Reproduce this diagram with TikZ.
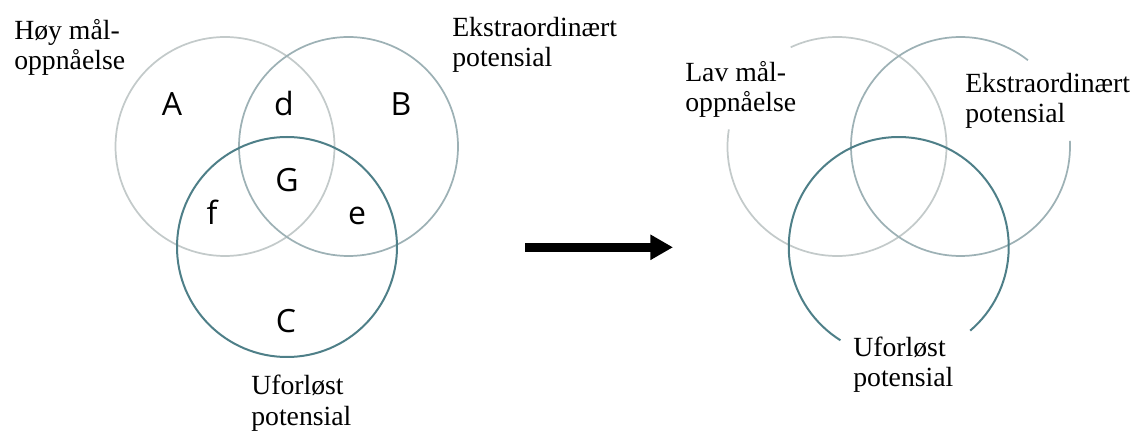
\documentclass[tikz,border=0pt]{standalone}
\usepackage{fontspec}
\setmainfont{Liberation Serif}
\newfontfamily\letterfont{Open Sans}
\usetikzlibrary{arrows.meta}
\definecolor{ringA}{HTML}{C3CACA}
\definecolor{ringB}{HTML}{9DB1B5}
\definecolor{ringC}{HTML}{4E7F88}
\begin{document}
\begin{tikzpicture}[x=0.75pt,y=0.75pt]
\useasboundingbox (0,0) rectangle (1139,432);
\draw[ringA, line width=1.3pt] (225,285.5) circle[radius=109.5];
\draw[ringB, line width=1.3pt] (348.5,285.5) circle[radius=109.5];
\draw[ringC, line width=1.5pt] (287,185) circle[radius=110];
\node[font=\letterfont\fontsize{24pt}{27pt}\selectfont, anchor=base, inner sep=0] (rA) at (172,316){A};
\node[font=\letterfont\fontsize{24pt}{27pt}\selectfont, anchor=base, inner sep=0] (rd) at (284,316){d};
\node[font=\letterfont\fontsize{24pt}{27pt}\selectfont, anchor=base, inner sep=0] (rB) at (401,316){B};
\node[font=\letterfont\fontsize{24pt}{27pt}\selectfont, anchor=base, inner sep=0] (rG) at (287,240.5){G};
\node[font=\letterfont\fontsize{24pt}{27pt}\selectfont, anchor=base, inner sep=0] (rf) at (212,207){f};
\node[font=\letterfont\fontsize{24pt}{27pt}\selectfont, anchor=base, inner sep=0] (re) at (357,207){e};
\node[font=\letterfont\fontsize{24pt}{27pt}\selectfont, anchor=base, inner sep=0] (rC) at (286,99){C};
\node[font=\fontsize{20.8pt}{23pt}\selectfont, align=left, anchor=base west, inner sep=0] (hoy) at (14,362){Høy mål-\\oppnåelse};
\node[font=\fontsize{20.8pt}{23pt}\selectfont, align=left, anchor=base west, inner sep=0] (ekstraL) at (452,365){Ekstraordinært\\potensial};
\node[font=\fontsize{20.8pt}{23pt}\selectfont, align=left, anchor=base west, inner sep=0] (uforL) at (251,7){Uforløst\\potensial};
\coordinate (arrstart) at (525,184.7);
\coordinate (arrend) at (673,184.7);
\draw[line width=6.5pt, -{Triangle[length=17pt, width=18pt]}] (arrstart) -- (arrend);
\draw[ringA, line width=1.3pt] (837,285.5) ++(171:109.5) arc[start angle=171, end angle=475, radius=109.5];
\draw[ringB, line width=1.3pt] (960.5,285.5) ++(52:109.5) arc[start angle=52, end angle=363, radius=109.5];
\draw[ringC, line width=1.5pt] (898.75,185) ++(-49.5:110) arc[start angle=-49.5, end angle=238, radius=110];
\node[font=\fontsize{20.8pt}{23pt}\selectfont, align=left, anchor=base west, inner sep=0] (lav) at (685,320){Lav mål-\\oppnåelse};
\node[font=\fontsize{20.8pt}{23pt}\selectfont, align=left, anchor=base west, inner sep=0] (ekstraR) at (965,309){Ekstraordinært\\potensial};
\node[font=\fontsize{20.8pt}{23pt}\selectfont, align=left, anchor=base west, inner sep=0] (uforR) at (853,45){Uforløst\\potensial};
\end{tikzpicture}
\end{document}
